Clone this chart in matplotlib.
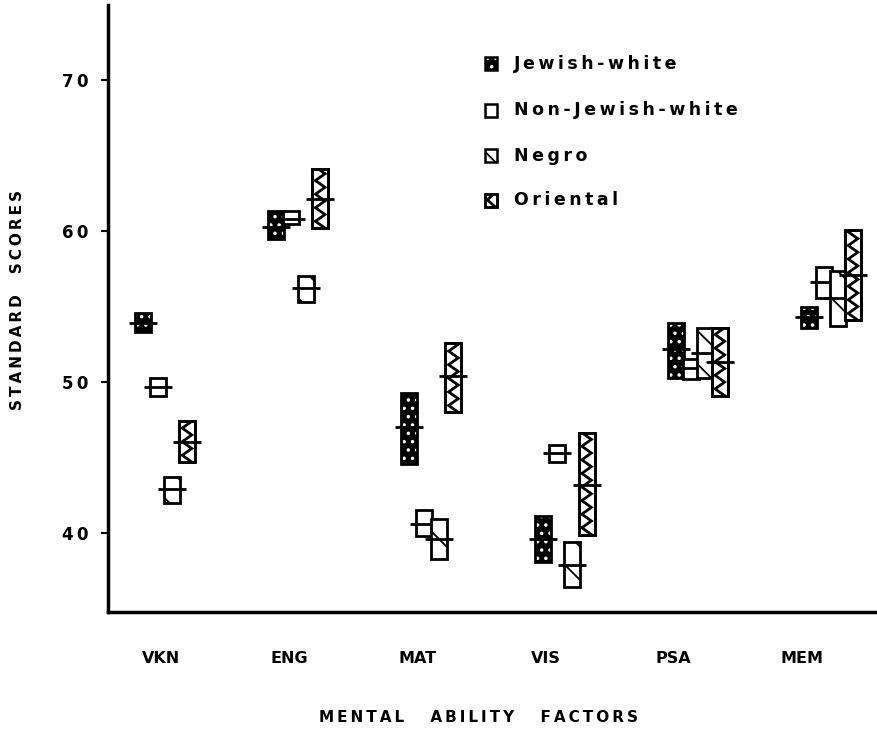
import numpy as np
import matplotlib
matplotlib.use('Agg')
import matplotlib.pyplot as plt

factors = ['VKN', 'ENG', 'MAT', 'VIS', 'PSA', 'MEM']
groups = ['Jewish-white', 'Non-Jewish-white', 'Negro', 'Oriental']

# mean, lower and upper edge of each box
jewish_mean = [53.9, 60.3, 47.0, 39.6, 52.2, 54.3]
jewish_low = [53.3, 59.5, 44.6, 38.1, 50.3, 53.6]
jewish_high = [54.6, 61.3, 49.3, 41.1, 53.9, 55.0]

nonjewish_mean = [49.7, 60.8, 40.6, 45.3, 50.9, 56.6]
nonjewish_low = [49.1, 60.5, 39.8, 44.7, 50.2, 55.6]
nonjewish_high = [50.3, 61.3, 41.5, 45.8, 51.5, 57.6]

negro_mean = [42.9, 56.2, 39.6, 37.9, 51.9, 55.6]
negro_low = [42.0, 55.3, 38.3, 36.4, 50.3, 53.7]
negro_high = [43.7, 57.0, 40.9, 39.4, 53.6, 57.35]

oriental_mean = [46.0, 62.1, 50.4, 43.2, 51.3, 57.1]
oriental_low = [44.7, 60.2, 48.0, 39.9, 49.1, 54.1]
oriental_high = [47.4, 64.1, 52.6, 46.6, 53.6, 60.1]

yticks = [40, 50, 60, 70]

plt.rcParams['font.family'] = ['DejaVu Sans']
plt.rcParams['font.weight'] = 'bold'
plt.rcParams['hatch.linewidth'] = 1.3


def spaced(s):
    # wide tracking like the original lettering
    return '\u2009'.join(s)


def zigzag(ax, patch, zorder):
    x0, y0 = patch.get_x(), patch.get_y()
    w, h = patch.get_width(), patch.get_height()
    step = 0.45
    n = int(h / step) + 3
    ys = y0 - step + np.arange(n) * step
    xs = np.where(np.arange(n) % 2 == 0, x0 + 0.2 * w, x0 + 0.8 * w)
    line, = ax.plot(xs, ys, color='black', lw=2.0, zorder=zorder,
                    solid_joinstyle='miter')
    line.set_clip_path(patch)


fig = plt.figure(figsize=(8.77, 7.31), dpi=100)
ax = fig.add_axes([0.1232, 0.1628, 0.8768, 0.8302])

x = np.arange(len(factors))
w = 0.12
step = 0.11
ext = 0.045

series = [
    (jewish_mean, jewish_low, jewish_high),
    (nonjewish_mean, nonjewish_low, nonjewish_high),
    (negro_mean, negro_low, negro_high),
    (oriental_mean, oriental_low, oriental_high),
]

for k, (mean, low, high) in enumerate(series):
    pos = x + (k - 1.5) * step
    mean, low, high = np.array(mean), np.array(low), np.array(high)
    z = 3 + k * 2
    if k == 0:
        ax.bar(pos, high - low, bottom=low, width=w, color='black',
               edgecolor='white', hatch='..', lw=0, zorder=z)
        ax.bar(pos, high - low, bottom=low, width=w, fill=False,
               edgecolor='black', lw=2, zorder=z)
    elif k == 1:
        ax.bar(pos, high - low, bottom=low, width=w, color='white',
               edgecolor='black', lw=2, zorder=z)
    elif k == 2:
        ax.bar(pos, high - low, bottom=low, width=w, color='white',
               edgecolor='black', hatch='\\', lw=2, zorder=z)
    else:
        bars = ax.bar(pos, high - low, bottom=low, width=w, color='white',
                      edgecolor='black', lw=2, zorder=z)
        for p in bars.patches:
            zigzag(ax, p, z)
        ax.bar(pos, high - low, bottom=low, width=w, fill=False,
               edgecolor='black', lw=2, zorder=z + 0.5)
    ax.hlines(mean, pos - w / 2 - ext, pos + w / 2 + ext, color='black',
              lw=2, zorder=z + 1)

# legend drawn by hand, as in the original
leg_x = 2.40
leg_y = [71.1, 68.0, 65.0, 62.05]
lw_, lh_ = 0.095, 0.85
for k, (name, yy) in enumerate(zip(groups, leg_y)):
    if k == 0:
        r = plt.Rectangle((leg_x, yy - lh_ / 2), lw_, lh_, facecolor='black',
                          edgecolor='white', hatch='..', lw=0)
        ax.add_patch(r)
        ax.add_patch(plt.Rectangle((leg_x, yy - lh_ / 2), lw_, lh_,
                                   fill=False, edgecolor='black', lw=1.8))
    elif k == 1:
        ax.add_patch(plt.Rectangle((leg_x, yy - lh_ / 2), lw_, lh_,
                                   facecolor='white', edgecolor='black', lw=1.8))
    elif k == 2:
        ax.add_patch(plt.Rectangle((leg_x, yy - lh_ / 2), lw_, lh_,
                                   facecolor='white', edgecolor='black',
                                   hatch='\\', lw=1.8))
    else:
        r = plt.Rectangle((leg_x, yy - lh_ / 2), lw_, lh_, facecolor='white',
                          edgecolor='black', lw=1.8)
        ax.add_patch(r)
        zigzag(ax, r, 3)
        ax.add_patch(plt.Rectangle((leg_x, yy - lh_ / 2), lw_, lh_,
                                   fill=False, edgecolor='black', lw=1.8))
    ax.text(leg_x + 0.22, yy, spaced(name), fontsize=12.5, fontweight='bold',
            va='center', ha='left')

ax.set_xlim(-0.428, 5.345)
ax.set_ylim(34.77, 74.97)
ax.set_yticks(yticks)
ax.set_yticklabels([spaced(str(t)) for t in yticks], fontsize=12,
                   fontweight='bold')
ax.set_xticks(x * 0.962 - 0.03)
ax.set_xticklabels(factors, fontsize=11.5, fontweight='bold')
ax.tick_params(axis='x', length=0, pad=28)
ax.tick_params(axis='y', direction='out', length=5, width=1.5, pad=9)

for s in ['top', 'right']:
    ax.spines[s].set_visible(False)
for s in ['left', 'bottom']:
    ax.spines[s].set_linewidth(2.5)

fig.text(18 / 877, 1 - 300 / 731, spaced('STANDARD') + '    ' + spaced('SCORES'),
         rotation=90, fontsize=11, fontweight='bold', ha='center', va='center')
fig.text(479 / 877, 1 - 718 / 731,
         spaced('MENTAL') + '     ' + spaced('ABILITY') + '     ' + spaced('FACTORS'),
         fontsize=11, fontweight='bold', ha='center', va='center')

fig.savefig('out.png', dpi=100)
